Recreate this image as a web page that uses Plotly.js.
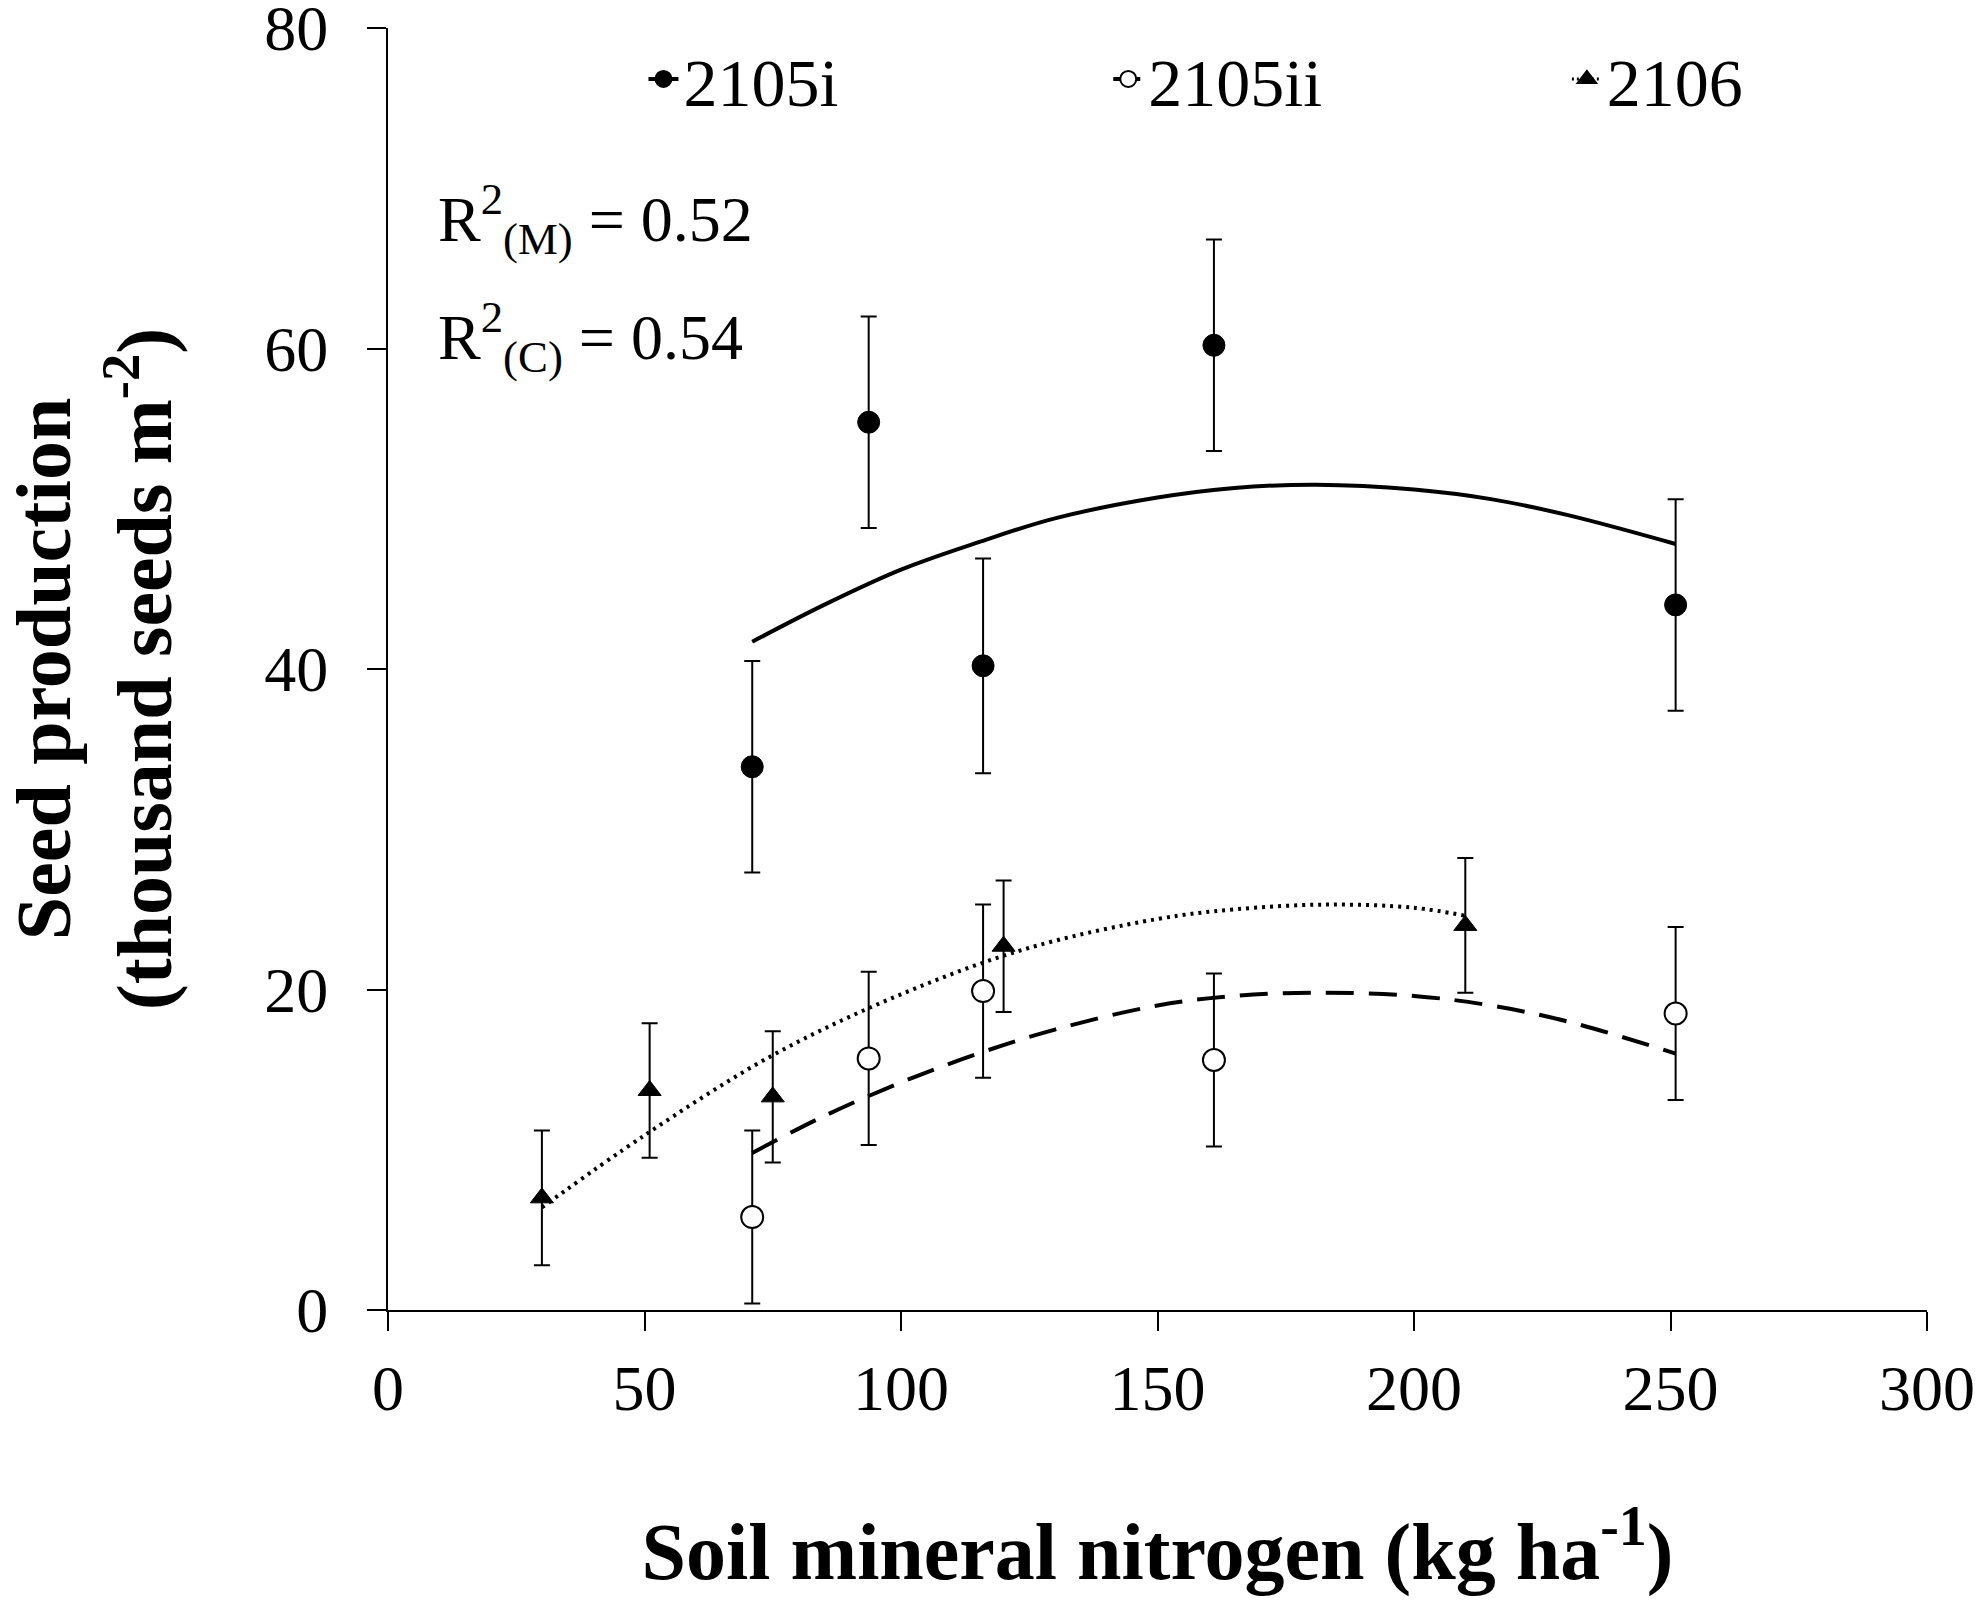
<!DOCTYPE html>
<html>
<head>
<meta charset="utf-8">
<script src="https://cdn.plot.ly/plotly-3.0.1.min.js"></script>
<style>html,body{margin:0;padding:0;background:#fff;}#chart{width:1979px;height:1601px;}</style>
</head>
<body>
<div id="chart"></div>
<script>
// ---- observed means with standard errors ----
const seriesNames = ['2105i', '2105ii', '2106'];

const n2105i = [71, 93.7, 116, 161, 251];
const y2105i = [33.9, 55.4, 40.2, 60.2, 44.0];
const e2105i = [6.6, 6.6, 6.7, 6.6, 6.6];

const n2105ii = [71, 93.7, 116, 161, 251];
const y2105ii = [5.8, 15.7, 19.9, 15.6, 18.5];
const e2105ii = [5.4, 5.4, 5.4, 5.4, 5.4];

const n2106 = [30, 51, 75, 120, 210];
const y2106 = [7.0, 13.7, 13.3, 22.7, 24.0];
const e2106 = [4.2, 4.2, 4.1, 4.1, 4.2];

// ---- fitted curves ----
const fitX2105i = [71, 85, 100, 115, 130, 150, 165, 181, 200, 215, 230, 251];
const fitY2105i = [41.7, 44.0, 46.2, 47.9, 49.4, 50.7, 51.3, 51.5, 51.2, 50.6, 49.6, 47.8];

const fitX2105ii = [71, 85, 100, 115, 130, 150, 165, 182, 200, 215, 230, 251];
const fitY2105ii = [9.8, 12.1, 14.2, 16.0, 17.5, 19.0, 19.6, 19.8, 19.6, 19.0, 18.0, 16.0];

const fitX2106 = [30, 50, 75, 100, 125, 150, 165, 183, 200, 210];
const fitY2106 = [6.4, 10.9, 15.9, 19.7, 22.6, 24.4, 25.0, 25.3, 25.1, 24.6];

const xTicks = [0, 50, 100, 150, 200, 250, 300];
const yTicks = [0, 20, 40, 60, 80];

const FONT = 'Liberation Serif, Times New Roman, serif';
const BLACK = '#000000';

function pts(x, y, e, symbol, size, fill, lineW) {
  return {
    type: 'scatter', mode: 'markers', x: x, y: y, showlegend: false,
    marker: {symbol: symbol, size: size, color: fill, line: {color: BLACK, width: lineW}},
    error_y: {type: 'data', array: e, visible: true, color: BLACK, thickness: 2, width: 8},
    cliponaxis: false
  };
}
function fit(x, y, dash, w) {
  return {type: 'scatter', mode: 'lines', x: x, y: y, showlegend: false,
          line: {color: BLACK, width: w, dash: dash, shape: 'spline'}};
}
function key(name, legendId, symbol, size, fill, dash, w) {
  return {type: 'scatter', mode: 'lines+markers', x: [null], y: [null], name: name, legend: legendId,
          marker: {symbol: symbol, size: size, color: fill, line: {color: BLACK, width: 2}},
          line: {color: BLACK, width: w, dash: dash}};
}

const data = [
  fit(fitX2105i, fitY2105i, 'solid', 4),
  fit(fitX2105ii, fitY2105ii, '28px,15px', 4),
  fit(fitX2106, fitY2106, '3px,5px', 4),
  pts(n2105i, y2105i, e2105i, 'circle', 22, BLACK, 1),
  pts(n2105ii, y2105ii, e2105ii, 'circle', 22, '#ffffff', 2),
  pts(n2106, y2106, e2106, 'triangle-up', 20, BLACK, 1),
  key(seriesNames[0], 'legend', 'circle', 16, BLACK, 'solid', 4),
  key(seriesNames[1], 'legend2', 'circle', 16, '#ffffff', '10px,7px', 4),
  key(seriesNames[2], 'legend3', 'triangle-up', 16, BLACK, '2px,3px', 3)
];

function legendAt(x) {
  return {orientation: 'h', x: x, y: 0.960, xanchor: 'left', yanchor: 'middle',
          font: {family: FONT, size: 68, color: BLACK}, bgcolor: 'rgba(0,0,0,0)'};
}

const layout = {
  width: 1979, height: 1601,
  paper_bgcolor: '#ffffff', plot_bgcolor: '#ffffff',
  margin: {l: 388, r: 52, t: 28, b: 291},
  font: {family: FONT, color: BLACK, size: 64},
  showlegend: true,
  legend: legendAt(0.166),
  legend2: legendAt(0.468),
  legend3: legendAt(0.766),
  xaxis: {
    range: [0, 300], tickvals: xTicks, ticktext: xTicks.map(String),
    showline: true, linecolor: BLACK, linewidth: 2, ticks: 'outside', ticklen: 19, tickwidth: 2, tickcolor: BLACK,
    showgrid: false, zeroline: false, ticklabelstandoff: 2, ticklabeloverflow: 'allow',
    tickfont: {family: FONT, size: 64, color: BLACK},
    title: {text: '<b>Soil mineral nitrogen (kg ha<sup>-1</sup>)</b>', font: {family: FONT, size: 80, color: BLACK}, standoff: 100}
  },
  yaxis: {
    range: [0, 80], tickvals: yTicks, ticktext: yTicks.map(String),
    showline: true, linecolor: BLACK, linewidth: 2, ticks: 'outside', ticklen: 19, tickwidth: 2, tickcolor: BLACK,
    showgrid: false, zeroline: false, ticklabelstandoff: 26, ticklabeloverflow: 'allow',
    tickfont: {family: FONT, size: 64, color: BLACK},
    title: {text: '<b>Seed production<br>(thousand seeds m<sup>-2</sup>)</b>', font: {family: FONT, size: 78, color: BLACK}, standoff: 104}
  },
  annotations: [
    {xref: 'paper', yref: 'paper', x: 0.031, y: 0.851, xanchor: 'left', yanchor: 'middle', showarrow: false,
     text: 'R<sup>2</sup><sub>(M)</sub> = 0.52', font: {family: FONT, size: 64, color: BLACK}},
    {xref: 'paper', yref: 'paper', x: 0.031, y: 0.759, xanchor: 'left', yanchor: 'middle', showarrow: false,
     text: 'R<sup>2</sup><sub>(C)</sub> = 0.54', font: {family: FONT, size: 64, color: BLACK}}
  ]
};

Plotly.newPlot('chart', data, layout, {displayModeBar: false, responsive: false});
</script>
</body>
</html>
